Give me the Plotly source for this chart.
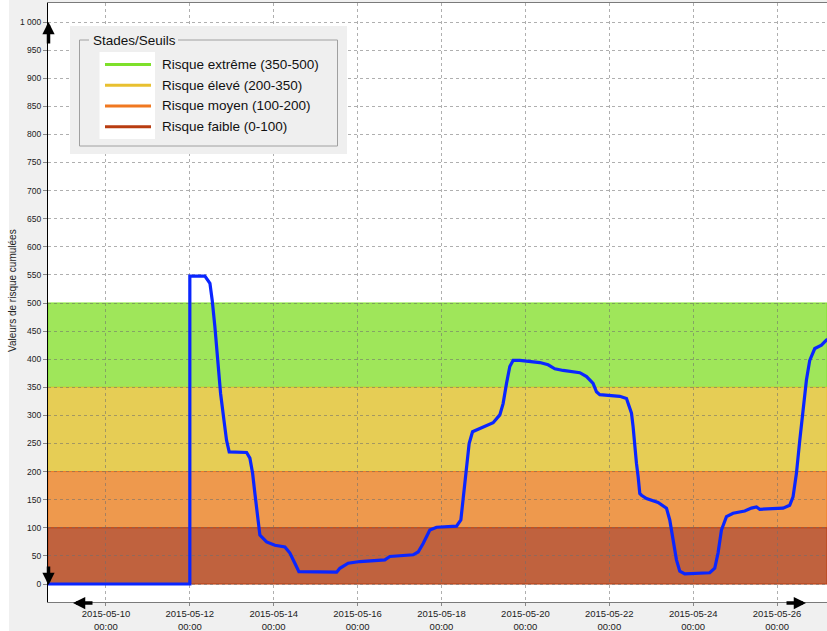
import plotly.graph_objects as go

# ---- data -------------------------------------------------------------
dates = [
    "2015-05-08 12:00", "2015-05-12 00:00", "2015-05-12 00:00", "2015-05-12 08:38",
    "2015-05-12 11:30", "2015-05-12 12:48", "2015-05-12 14:20", "2015-05-12 15:54",
    "2015-05-12 17:36", "2015-05-12 19:30", "2015-05-12 21:00", "2015-05-12 22:32",
    "2015-05-13 08:30", "2015-05-13 10:22", "2015-05-13 11:55", "2015-05-13 13:14",
    "2015-05-13 14:46", "2015-05-13 16:05", "2015-05-13 19:55", "2015-05-14 00:40",
    "2015-05-14 06:24", "2015-05-14 09:15", "2015-05-14 12:06", "2015-05-14 14:24",
    "2015-05-15 12:00", "2015-05-15 13:51", "2015-05-15 18:36", "2015-05-16 01:17",
    "2015-05-16 15:35", "2015-05-16 18:27", "2015-05-17 07:47", "2015-05-17 10:38",
    "2015-05-17 13:30", "2015-05-17 17:20", "2015-05-17 21:10", "2015-05-18 08:36",
    "2015-05-18 11:04", "2015-05-18 12:24", "2015-05-18 14:19", "2015-05-18 15:49",
    "2015-05-18 17:45", "2015-05-18 20:03", "2015-05-18 23:50", "2015-05-19 05:32",
    "2015-05-19 09:22", "2015-05-19 11:15", "2015-05-19 13:12", "2015-05-19 15:05",
    "2015-05-19 17:00", "2015-05-19 20:49", "2015-05-20 08:15", "2015-05-20 13:00",
    "2015-05-20 16:50", "2015-05-20 21:35", "2015-05-21 07:08", "2015-05-21 11:00",
    "2015-05-21 14:44", "2015-05-21 16:40", "2015-05-21 18:34", "2015-05-22 06:00",
    "2015-05-22 09:50", "2015-05-22 11:44", "2015-05-22 12:42", "2015-05-22 13:37",
    "2015-05-22 14:35", "2015-05-22 15:32", "2015-05-22 16:30", "2015-05-22 17:27",
    "2015-05-22 18:25", "2015-05-22 21:17", "2015-05-23 03:55", "2015-05-23 08:43",
    "2015-05-23 10:36", "2015-05-23 12:30", "2015-05-23 14:26", "2015-05-23 16:20",
    "2015-05-23 19:12", "2015-05-24 09:29", "2015-05-24 12:20", "2015-05-24 14:13",
    "2015-05-24 16:10", "2015-05-24 19:02", "2015-05-24 22:50", "2015-05-25 05:30",
    "2015-05-25 09:20", "2015-05-25 12:13", "2015-05-25 14:06", "2015-05-26 03:25",
    "2015-05-26 07:14", "2015-05-26 09:08", "2015-05-26 11:05", "2015-05-26 13:00",
    "2015-05-26 14:53", "2015-05-26 16:48", "2015-05-26 18:41", "2015-05-26 21:34",
    "2015-05-27 01:23", "2015-05-27 04:13", "2015-05-27 08:00",
]
risk_values = [
    0, 0, 548, 548,
    535, 505, 458, 399,
    339, 292, 256, 235,
    234, 224, 197, 161,
    120, 87, 75, 69,
    66, 55, 37, 22,
    21, 28, 37, 40,
    43, 49, 52, 57,
    72, 96, 101, 103,
    114, 149, 209, 250,
    271, 274, 279, 287,
    301, 321, 357, 387,
    398, 398, 394, 390,
    383, 380, 376, 369,
    357, 342, 337, 334,
    330, 315, 304, 280,
    244, 215, 191, 161,
    158, 152, 145, 135,
    114, 78, 43, 23,
    18, 20, 28, 55,
    96, 120, 126, 130,
    135, 137, 133, 135,
    140, 155, 197, 256,
    315, 363, 398, 419,
    425, 434, 440,
]

band_labels = ["Risque extrême (350-500)", "Risque élevé (200-350)",
               "Risque moyen (100-200)", "Risque faible (0-100)"]
band_low = [350, 200, 100, 0]
band_high = [500, 350, 200, 100]
band_fill = ["#9fe65a", "#e6cd55", "#ee994d", "#c0623e"]
band_line = ["#7ee02a", "#e8c030", "#f07820", "#b83c10"]
legend_title = "Stades/Seuils"

# ---- geometry helpers (pixel -> paper) ---------------------------------
W, H = 827, 631
L, R, T, B = 48, 0, 3, 29
PW, PH = W - L - R, H - T - B


def px(x):
    return (x - L) / PW


def py(y):
    return (H - B - y) / PH


FONT = "Liberation Sans"

fig = go.Figure()
fig.add_trace(go.Scatter(
    x=dates, y=risk_values, mode="lines",
    line=dict(color="#0a26ff", width=3.2),
    showlegend=False, hoverinfo="x+y",
))

shapes = []
# risk bands
for lo, hi, fc, lc in zip(band_low, band_high, band_fill, band_line):
    shapes.append(dict(type="rect", xref="paper", yref="y", x0=0, x1=1, y0=lo, y1=hi,
                       fillcolor=fc, line=dict(color=lc, width=1), layer="below"))
# white strip at far left of the window
shapes.append(dict(type="rect", xref="paper", yref="paper", x0=px(0), x1=px(9),
                   y0=py(H + 2), y1=py(-2), fillcolor="white", line=dict(width=0), layer="below"))

# manual legend box
shapes.append(dict(type="rect", xref="paper", yref="paper", x0=px(70), x1=px(347),
                   y0=py(154), y1=py(26), fillcolor="#efefef", line=dict(width=0)))
shapes.append(dict(type="rect", xref="paper", yref="paper", x0=px(79.5), x1=px(337.5),
                   y0=py(146), y1=py(40), fillcolor="rgba(0,0,0,0)",
                   line=dict(color="#a0a0a0", width=1)))
shapes.append(dict(type="rect", xref="paper", yref="paper", x0=px(89), x1=px(178),
                   y0=py(44), y1=py(34), fillcolor="#efefef", line=dict(width=0)))
shapes.append(dict(type="rect", xref="paper", yref="paper", x0=px(99.5), x1=px(155),
                   y0=py(139), y1=py(52), fillcolor="white", line=dict(width=0)))

annotations = []
annotations.append(dict(xref="paper", yref="paper", x=px(91), y=py(41), text=legend_title,
                        showarrow=False, xanchor="left", yanchor="middle",
                        font=dict(family=FONT, size=13.5, color="#111")))
row_y = [64.5, 85.3, 106, 126.7]
for lbl, lc, ry in zip(band_labels, band_line, row_y):
    shapes.append(dict(type="line", xref="paper", yref="paper", x0=px(105), x1=px(151),
                       y0=py(ry), y1=py(ry), line=dict(color=lc, width=3)))
    annotations.append(dict(xref="paper", yref="paper", x=px(160), y=py(ry), text=lbl,
                            showarrow=False, xanchor="left", yanchor="middle",
                            font=dict(family=FONT, size=13.5, color="#111")))

# y axis title
annotations.append(dict(xref="paper", yref="paper", x=px(12), y=py(291),
                        text="Valeurs de risque cumulées", textangle=-90, showarrow=False,
                        xanchor="center", yanchor="middle",
                        font=dict(family=FONT, size=10, color="#222")))

# axis arrows
for tip, tail in [((48.5, 22), (48.5, 45)), ((48.5, 585), (48.5, 565)),
                  ((73, 603), (94, 603)), ((806, 603), (785, 603))]:
    annotations.append(dict(xref="paper", yref="paper", x=px(tip[0]), y=py(tip[1]),
                            ax=tail[0] - tip[0], ay=tail[1] - tip[1], text="",
                            showarrow=True, arrowhead=2, arrowsize=0.7, arrowwidth=3.5,
                            arrowcolor="black", standoff=0, startstandoff=0))

fig.update_layout(
    width=W, height=H,
    margin=dict(l=L, r=R, t=T, b=B, pad=0, autoexpand=False),
    paper_bgcolor="#f0f0f0", plot_bgcolor="white",
    separators=", ",
    shapes=shapes, annotations=annotations,
    showlegend=False,
    font=dict(family=FONT, size=9, color="#222"),
    xaxis=dict(
        type="date", automargin=False,
        range=["2015-05-08 14:51", "2015-05-27 04:34"],
        tick0="2015-05-10", dtick=2 * 86400000,
        tickformat="%Y-%m-%d<br>%H:%M",
        showgrid=True, gridcolor="rgba(110,110,110,0.55)", griddash="3px,3px", gridwidth=1,
        showline=True, linecolor="#7a7a7a", linewidth=1, mirror=True,
        ticks="outside", ticklen=3, tickcolor="#888",
        tickfont=dict(family=FONT, size=9.5, color="#222"),
        zeroline=False, fixedrange=True,
    ),
    yaxis=dict(
        automargin=False,
        range=[-32, 1033.8],
        tick0=0, dtick=50, tickformat=",d",
        showgrid=True, gridcolor="rgba(110,110,110,0.55)", griddash="3px,3px", gridwidth=1,
        showline=True, linecolor="black", linewidth=1,
        ticks="outside", ticklen=4, tickcolor="#888",
        tickfont=dict(family=FONT, size=8.5, color="#222"),
        zeroline=False, fixedrange=True,
    ),
)

fig.write_html("out.html", config={"displayModeBar": False},
               post_script="document.body.style.margin='0';document.body.style.overflow='hidden';")
